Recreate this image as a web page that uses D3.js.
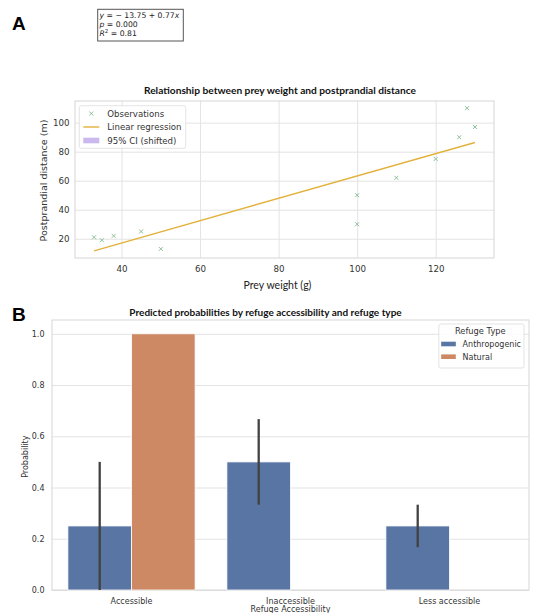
<!DOCTYPE html>
<html>
<head>
<meta charset="utf-8">
<script src="https://cdn.jsdelivr.net/npm/d3@7"></script>
<style>
body { margin: 0; background: #fff; }
svg { display: block; }
.tick line { stroke: #e3e3e3; }
.axis text { fill: #333; font-family: "DejaVu Sans", sans-serif; }
</style>
</head>
<body>
<svg width="533" height="613"></svg>
<script>
// panel A data
var preyWeight = [33, 35, 38, 45, 50, 100, 100, 110, 120, 126, 128, 130];
var distance = [21, 19, 22, 25, 13, 50, 30, 62, 75, 90, 110, 97];
var fitX = [33, 130];
var fitY = [11.66, 86.35];
var xTicksA = [40, 60, 80, 100, 120];
var yTicksA = [20, 40, 60, 80, 100];
var legendA = ['Observations', 'Linear regression', '95% CI (shifted)'];

// panel B data
var accessCats = ['Accessible', 'Inaccessible', 'Less accessible'];
var refugeTypes = ['Anthropogenic', 'Natural'];
var anthroProb = [0.25, 0.5, 0.25];
var naturalProb = [1.0, null, null];
var anthroLow = [0, 0.333, 0.167];
var anthroHigh = [0.5, 0.667, 0.333];
var yTicksB = [0, 0.2, 0.4, 0.6, 0.8, 1.0];

var svg = d3.select('svg');
var font = '"DejaVu Sans", sans-serif';
var titleFont = 'Lato, "Open Sans", sans-serif';

// ---------- panel A ----------
svg.append('text')
    .attr('x', 12).attr('y', 30)
    .style('font-family', '"Liberation Sans", Arial, sans-serif')
    .style('font-weight', 'bold').style('font-size', '19px')
    .text('A');

svg.append('rect')
    .attr('x', 97.7).attr('y', 9.3).attr('width', 85.6).attr('height', 31.7)
    .attr('fill', '#fff').attr('stroke', '#555').attr('stroke-width', 1);

var eq = svg.append('g')
    .style('font-family', font).style('font-size', '7.7px').style('fill', '#222');
var l1 = eq.append('text').attr('x', 99.5).attr('y', 17.8);
l1.append('tspan').style('font-style', 'italic').text('y');
l1.append('tspan').text(' = \u2212 13.75 + 0.77');
l1.append('tspan').style('font-style', 'italic').text('x');
var l2 = eq.append('text').attr('x', 99.5).attr('y', 27);
l2.append('tspan').style('font-style', 'italic').text('p');
l2.append('tspan').text(' = 0.000');
var l3 = eq.append('text').attr('x', 99.5).attr('y', 36.2);
l3.append('tspan').style('font-style', 'italic').text('R');
l3.append('tspan').attr('dy', -3).style('font-size', '5.5px').text('2');
l3.append('tspan').attr('dy', 3).text(' = 0.81');

var xA = d3.scaleLinear().domain([28.15, 134.85]).range([75, 494]);
var yA = d3.scaleLinear().domain([6.74, 114.92]).range([258, 101]);

svg.append('g')
    .attr('class', 'x axis')
    .attr('transform', 'translate(0,258)')
    .call(d3.axisBottom(xA).tickValues(xTicksA).tickSize(-157).tickPadding(8))
    .call(function(g){ g.select('.domain').remove(); })
    .selectAll('text').style('font-size', '8.7px');

svg.append('g')
    .attr('class', 'y axis')
    .attr('transform', 'translate(75,0)')
    .call(d3.axisLeft(yA).tickValues(yTicksA).tickSize(-419).tickPadding(5.5))
    .call(function(g){ g.select('.domain').remove(); })
    .selectAll('text').style('font-size', '8.7px');

svg.append('rect')
    .attr('x', 75).attr('y', 101).attr('width', 419).attr('height', 157)
    .attr('fill', 'none').attr('stroke', '#d6d6d6').attr('stroke-width', 1);

svg.append('path')
    .datum(d3.zip(fitX, fitY))
    .attr('d', d3.line().x(function(d){ return xA(d[0]); }).y(function(d){ return yA(d[1]); }))
    .attr('fill', 'none').attr('stroke', '#e3b23c').attr('stroke-width', 1.4);

var xMark = function(s){ return 'M' + (-s) + ',' + (-s) + 'L' + s + ',' + s + 'M' + (-s) + ',' + s + 'L' + s + ',' + (-s); };

svg.selectAll('.obs')
    .data(d3.zip(preyWeight, distance))
    .enter()
    .append('path')
    .attr('class', 'obs')
    .attr('transform', function(d){ return 'translate(' + xA(d[0]) + ',' + yA(d[1]) + ')'; })
    .attr('d', xMark(2))
    .attr('fill', 'none').attr('stroke', '#72b381').attr('stroke-width', 0.8);

svg.append('text')
    .attr('x', 280).attr('y', 93.6)
    .attr('text-anchor', 'middle')
    .style('font-family', titleFont).style('font-weight', 'bold').style('font-size', '10.2px')
    .style('fill', '#111')
    .text('Relationship between prey weight and postprandial distance');

svg.append('text')
    .attr('x', 277.5).attr('y', 288.7)
    .attr('text-anchor', 'middle')
    .style('font-family', titleFont).style('font-size', '10.5px').style('fill', '#222')
    .text('Prey weight (g)');

svg.append('text')
    .attr('transform', 'translate(47.4,180.5)rotate(-90)')
    .attr('text-anchor', 'middle')
    .style('font-family', font).style('font-size', '9.5px').style('fill', '#333')
    .text('Postprandial distance (m)');

// legend A
var legA = svg.append('g');
legA.append('rect')
    .attr('x', 79.3).attr('y', 105.7).attr('width', 106.4).attr('height', 42.6)
    .attr('rx', 2).attr('fill', '#fff').attr('fill-opacity', 0.85)
    .attr('stroke', '#dcdcdc').attr('stroke-width', 0.8);
var legY = [113.5, 127, 140.5];
legA.append('path')
    .attr('transform', 'translate(91.3,' + legY[0] + ')')
    .attr('d', xMark(2))
    .attr('fill', 'none').attr('stroke', '#72b381').attr('stroke-width', 0.8);
legA.append('line')
    .attr('x1', 83.3).attr('x2', 99.3).attr('y1', legY[1]).attr('y2', legY[1])
    .attr('stroke', '#e3b23c').attr('stroke-width', 1.4);
legA.append('rect')
    .attr('x', 83.3).attr('y', legY[2] - 2.8).attr('width', 16).attr('height', 5.6)
    .attr('fill', '#cbb8ec');
legA.selectAll('.lt')
    .data(legendA)
    .enter()
    .append('text')
    .attr('class', 'lt')
    .attr('x', 107.3)
    .attr('y', function(d, i){ return legY[i] + 3; })
    .style('font-family', font).style('font-size', '8.6px').style('fill', '#333')
    .text(function(d){ return d; });

// ---------- panel B ----------
svg.append('text')
    .attr('x', 12).attr('y', 321)
    .style('font-family', '"Liberation Sans", Arial, sans-serif')
    .style('font-weight', 'bold').style('font-size', '19px')
    .text('B');

var xB = d3.scaleBand().domain(accessCats).range([52, 529]);
var bw = xB.bandwidth();
var xSub = d3.scaleBand().domain(refugeTypes).range([0.1 * bw, 0.9 * bw]);
var yB = d3.scaleLinear().domain([0, 1.05]).range([590, 321]);
var colorB = d3.scaleOrdinal().domain(refugeTypes).range(['#5975a4', '#cc8963']);

svg.append('g')
    .attr('class', 'y axis')
    .attr('transform', 'translate(52,0)')
    .call(d3.axisLeft(yB).tickValues(yTicksB).tickFormat(d3.format('.1f')).tickSize(-477).tickPadding(7.5))
    .call(function(g){ g.select('.domain').remove(); })
    .selectAll('text').style('font-size', '8px');

svg.append('g')
    .attr('class', 'x axis')
    .attr('transform', 'translate(0,590)')
    .call(d3.axisBottom(xB).tickSize(0).tickPadding(8.3))
    .call(function(g){ g.select('.domain').remove(); })
    .selectAll('text').style('font-size', '8px');

svg.append('rect')
    .attr('x', 52).attr('y', 320).attr('width', 477).attr('height', 270)
    .attr('fill', 'none').attr('stroke', '#d6d6d6').attr('stroke-width', 1);

var barData = [];
accessCats.forEach(function(c, i){
    barData.push({ cat: c, type: 'Anthropogenic', p: anthroProb[i] });
    if (naturalProb[i] !== null) barData.push({ cat: c, type: 'Natural', p: naturalProb[i] });
});

svg.selectAll('.bar')
    .data(barData)
    .enter()
    .append('rect')
    .attr('class', 'bar')
    .attr('x', function(d){ return xB(d.cat) + xSub(d.type); })
    .attr('width', xSub.bandwidth())
    .attr('y', function(d){ return yB(d.p); })
    .attr('height', function(d){ return yB(0) - yB(d.p); })
    .attr('fill', function(d){ return colorB(d.type); })
    .attr('stroke', '#fff').attr('stroke-width', 0.8);

svg.selectAll('.err')
    .data(accessCats)
    .enter()
    .append('line')
    .attr('class', 'err')
    .attr('x1', function(d){ return xB(d) + xSub('Anthropogenic') + xSub.bandwidth() / 2; })
    .attr('x2', function(d){ return xB(d) + xSub('Anthropogenic') + xSub.bandwidth() / 2; })
    .attr('y1', function(d, i){ return yB(anthroLow[i]); })
    .attr('y2', function(d, i){ return yB(anthroHigh[i]); })
    .attr('stroke', '#424242').attr('stroke-width', 2.3);

svg.append('text')
    .attr('x', 265.5).attr('y', 316)
    .attr('text-anchor', 'middle')
    .style('font-family', titleFont).style('font-weight', 'bold').style('font-size', '10px')
    .style('fill', '#111')
    .text('Predicted probabilities by refuge accessibility and refuge type');

svg.append('text')
    .attr('x', 290.5).attr('y', 612)
    .attr('text-anchor', 'middle')
    .style('font-family', font).style('font-size', '8px').style('fill', '#333')
    .text('Refuge Accessibility');

svg.append('text')
    .attr('transform', 'translate(27.7,456.7)rotate(-90)')
    .attr('text-anchor', 'middle')
    .style('font-family', font).style('font-size', '8px').style('fill', '#333')
    .text('Probability');

// legend B
var legB = svg.append('g');
legB.append('rect')
    .attr('x', 438.8).attr('y', 324).attr('width', 85.2).attr('height', 44)
    .attr('rx', 2).attr('fill', '#fff').attr('fill-opacity', 0.85)
    .attr('stroke', '#dcdcdc').attr('stroke-width', 0.8);
legB.append('text')
    .attr('x', 480.3).attr('y', 333.6)
    .attr('text-anchor', 'middle')
    .style('font-family', font).style('font-size', '8.3px').style('fill', '#333')
    .text('Refuge Type');
var legBY = [344, 356.7];
legB.selectAll('.sw')
    .data(refugeTypes)
    .enter()
    .append('rect')
    .attr('class', 'sw')
    .attr('x', 441.2).attr('width', 14.6)
    .attr('y', function(d, i){ return legBY[i] - 2.3; })
    .attr('height', 4.6)
    .attr('fill', function(d){ return colorB(d); });
legB.selectAll('.st')
    .data(refugeTypes)
    .enter()
    .append('text')
    .attr('class', 'st')
    .attr('x', 462.6)
    .attr('y', function(d, i){ return legBY[i] + 2.9; })
    .style('font-family', font).style('font-size', '8px').style('fill', '#333')
    .text(function(d){ return d; });
</script>
</body>
</html>
